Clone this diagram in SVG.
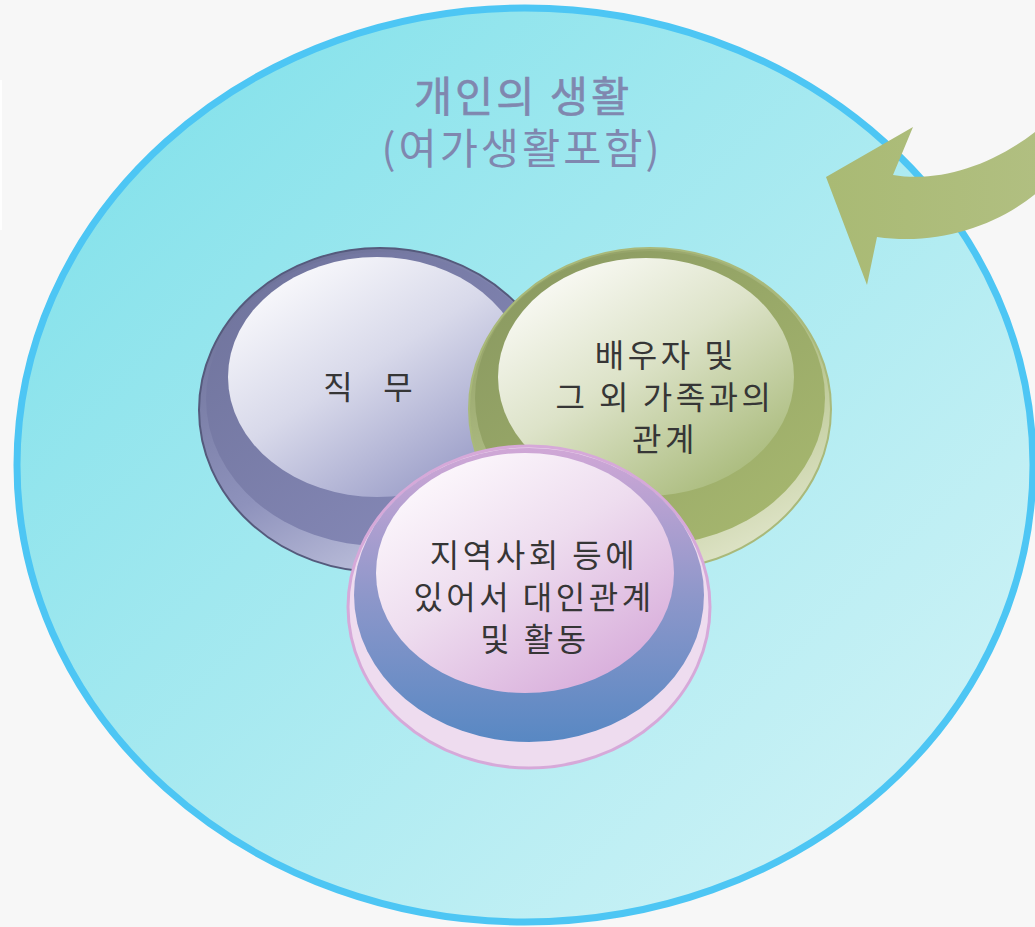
<svg xmlns="http://www.w3.org/2000/svg" width="1035" height="927" viewBox="0 0 1035 927">
<style>
.lbl{font-family:"Noto Sans CJK KR","Noto Sans",sans-serif;font-size:32px;fill:#363636;letter-spacing:3.5px;text-anchor:middle}
.ttl{font-family:"Noto Sans CJK KR","Noto Sans",sans-serif;font-size:41.5px;fill:#8087AF;letter-spacing:3px;text-anchor:middle}
</style>
<defs>
<linearGradient id="bigFill" gradientUnits="userSpaceOnUse" x1="150" y1="100" x2="900" y2="850">
<stop offset="0" stop-color="#86E2EB"/><stop offset="1" stop-color="#CDF2F6"/>
</linearGradient>
<linearGradient id="arrowFill" x1="0" y1="0" x2="1" y2="0">
<stop offset="0" stop-color="#A9BA74"/><stop offset="1" stop-color="#B1BF81"/>
</linearGradient>
<linearGradient id="pRim" x1="0.2" y1="0" x2="0.8" y2="1">
<stop offset="0" stop-color="#6A6E95"/><stop offset="0.55" stop-color="#8E92BC"/><stop offset="1" stop-color="#D0D2E8"/>
</linearGradient>
<linearGradient id="pBody" x1="0" y1="0" x2="1" y2="1">
<stop offset="0" stop-color="#6E729A"/><stop offset="1" stop-color="#8A8DBD"/>
</linearGradient>
<linearGradient id="pHi" x1="0.15" y1="0.05" x2="0.85" y2="0.95">
<stop offset="0" stop-color="#FBFBFD"/><stop offset="0.45" stop-color="#D8D9EA"/><stop offset="1" stop-color="#9598C5"/>
</linearGradient>
<linearGradient id="gRim" x1="0.2" y1="0" x2="0.8" y2="1">
<stop offset="0" stop-color="#8F9D62"/><stop offset="0.55" stop-color="#B4C28A"/><stop offset="1" stop-color="#E4E8CF"/>
</linearGradient>
<linearGradient id="gBody" x1="0" y1="0" x2="1" y2="1">
<stop offset="0" stop-color="#889760"/><stop offset="1" stop-color="#A9BA70"/>
</linearGradient>
<linearGradient id="gHi" x1="0.15" y1="0.05" x2="0.85" y2="0.95">
<stop offset="0" stop-color="#FBFBF7"/><stop offset="0.45" stop-color="#DDE3C9"/><stop offset="1" stop-color="#A7B978"/>
</linearGradient>
<linearGradient id="cBody" x1="0" y1="0" x2="0" y2="1">
<stop offset="0" stop-color="#D0A7D6"/><stop offset="0.5" stop-color="#8E97CA"/><stop offset="1" stop-color="#5888C3"/>
</linearGradient>
<linearGradient id="cHi" x1="0.15" y1="0.05" x2="0.85" y2="0.95">
<stop offset="0" stop-color="#FDF9FD"/><stop offset="0.45" stop-color="#EEDDEF"/><stop offset="1" stop-color="#D7ABDA"/>
</linearGradient>
</defs>
<rect x="0" y="0" width="1035" height="927" fill="#F7F7F7"/>
<rect x="0" y="80" width="2" height="150" fill="#FFFFFF" opacity="0.8"/>

<g id="node-personal-life">
<ellipse cx="525" cy="465" rx="508" ry="457" fill="url(#bigFill)" stroke="#4DC6F4" stroke-width="7"/>
<text class="ttl" x="523" y="112" stroke="#8087AF" stroke-width="0.6">개인의 생활</text>
<text class="ttl" x="522" y="164">(여가생활포함)</text>
</g>

<g id="connectors">
<path d="M826 177 L913 127 L893 175 C940 183 995 165 1040 128 L1040 190 C1000 225 940 246 877 237 L867 285 Z" fill="url(#arrowFill)"/>
</g>

<g id="node-job">
<ellipse cx="380" cy="410" rx="181" ry="162" fill="url(#pRim)" stroke="#555A7C" stroke-width="2"/>
<ellipse cx="381" cy="399" rx="175" ry="147" fill="url(#pBody)"/>
<ellipse cx="377" cy="377" rx="149" ry="120" fill="url(#pHi)"/>
<text class="lbl" x="338" y="399" style="letter-spacing:0">직</text>
<text class="lbl" x="398" y="399" style="letter-spacing:0">무</text>
</g>

<g id="node-family">
<ellipse cx="650" cy="409" rx="181" ry="161" fill="url(#gRim)" stroke="#A9B97A" stroke-width="2"/>
<ellipse cx="650" cy="398" rx="175" ry="147" fill="url(#gBody)"/>
<ellipse cx="646" cy="377" rx="148" ry="119" fill="url(#gHi)"/>
<text class="lbl" x="666" y="367">배우자 및</text>
<text class="lbl" x="665" y="409">그 외 가족과의</text>
<text class="lbl" x="665" y="451">관계</text>
</g>

<g id="node-community">
<ellipse cx="529" cy="607" rx="181" ry="161" fill="#EEDCEF" stroke="#D6A9D9" stroke-width="3"/>
<ellipse cx="529" cy="595" rx="175" ry="147" fill="url(#cBody)"/>
<ellipse cx="525" cy="573" rx="149" ry="120" fill="url(#cHi)"/>
<text class="lbl" x="534" y="567">지역사회 등에</text>
<text class="lbl" x="534" y="609">있어서 대인관계</text>
<text class="lbl" x="535" y="651">및 활동</text>
</g>
</svg>
